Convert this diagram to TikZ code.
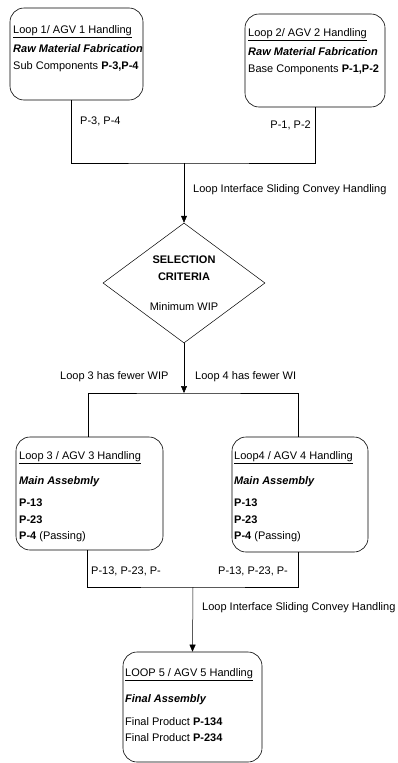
\documentclass[tikz,border=0pt]{standalone}
\usepackage{fontspec}
\setmainfont{Liberation Sans}
\usetikzlibrary{shapes.geometric,arrows.meta}
\begin{document}
\begin{tikzpicture}[x=1pt,y=-1pt,
  font=\fontsize{11}{13}\selectfont,
  box/.style={draw, rounded corners=14pt, inner sep=0pt, line width=0.6pt},
  txt/.style={anchor=west, inner sep=0pt},
  conn/.style={draw, line width=0.5pt},
  arr/.style={conn, -{Triangle[length=7pt,width=6pt]}}]
\useasboundingbox (0,0) rectangle (397,763);
\fill[white] (0,0) rectangle (397,763);

% boxes
\node[box, minimum width=133pt, minimum height=92pt] (b1) at (76.5,54) {};
\node[box, minimum width=140pt, minimum height=93pt] (b2) at (315,60.5) {};
\node[draw, shape=diamond, line width=0.5pt, inner sep=0pt, minimum width=162pt, minimum height=120pt] (dia) at (184,283) {};
\node[box, minimum width=147pt, minimum height=113pt] (b3) at (89.5,493.5) {};
\node[box, minimum width=136pt, minimum height=115pt] (b4) at (300,494.5) {};
\node[box, minimum width=139pt, minimum height=110pt] (b5) at (192.5,707) {};

% box texts
\node[txt] (t1a) at (13,32) {\underline{Loop 1/ AGV 1 Handling}};
\node[txt] (t1b) at (13,49) {\textbf{\textit{Raw Material Fabrication}}};
\node[txt] (t1c) at (13,67) {Sub Components \textbf{P-3,P-4}};

\node[txt] (t2a) at (248,35) {\underline{Loop 2/ AGV 2 Handling}};
\node[txt] (t2b) at (248,52) {\textbf{\textit{Raw Material Fabrication}}};
\node[txt] (t2c) at (248,70) {Base Components \textbf{P-1,P-2}};

\node[font=\fontsize{11}{13}\selectfont\bfseries, inner sep=0pt] (d1) at (184,260) {SELECTION};
\node[font=\fontsize{11}{13}\selectfont\bfseries, inner sep=0pt] (d2) at (184,277) {CRITERIA};
\node[inner sep=0pt] (d3) at (184,307) {Minimum WIP};

\node[txt] (t3a) at (19,458) {\underline{Loop 3 / AGV 3 Handling}};
\node[txt] (t3b) at (19,482) {\textbf{\textit{Main Assebmly}}};
\node[txt] (t3c) at (19,503) {\textbf{P-13}};
\node[txt] (t3d) at (19,520) {\textbf{P-23}};
\node[txt] (t3e) at (19,537) {\textbf{P-4} (Passing)};

\node[txt] (t4a) at (234,458) {\underline{Loop4 / AGV 4 Handling}};
\node[txt] (t4b) at (234,482) {\textbf{\textit{Main Assembly}}};
\node[txt] (t4c) at (234,503) {\textbf{P-13}};
\node[txt] (t4d) at (234,520) {\textbf{P-23}};
\node[txt] (t4e) at (234,537) {\textbf{P-4} (Passing)};

\node[txt] (t5a) at (125,675) {\underline{LOOP 5 / AGV 5 Handling}};
\node[txt] (t5b) at (125,700) {\textbf{\textit{Final Assembly}}};
\node[txt] (t5c) at (125,722) {Final Product \textbf{P-134}};
\node[txt] (t5d) at (125,738) {Final Product \textbf{P-234}};

% junctions
\coordinate (j1) at (184,163);
\coordinate (j2) at (184,393);
\coordinate (j3) at (193,587);

% connectors
\draw[conn] ([xshift=-5pt]b1.south) |- (j1) -| (b2.south);
\draw[arr] (j1) -- (dia.north);
\draw[arr] (dia.south) -- (j2);
\draw[conn] ([xshift=-1.5pt]b3.north) |- (j2) -| ([xshift=-2pt]b4.north);
\draw[conn] ([xshift=-2pt]b3.south) |- (j3) -| ([xshift=-2pt]b4.south);
\draw[arr] (j3) -- (b5.north);

% connector labels
\node[txt] (l1) at (80,121) {P-3, P-4};
\node[anchor=east, inner sep=0pt] (l2) at (311,125) {P-1, P-2};
\node[txt] (l3) at (193,190) {Loop Interface Sliding Convey Handling};
\node[txt] (l4) at (60,377) {Loop 3 has fewer WIP};
\node[txt] (l5) at (195,377) {Loop 4 has fewer WI};
\node[txt] (l6) at (91,571) {P-13, P-23, P-};
\node[txt] (l7) at (218,571) {P-13, P-23, P-};
\node[txt] (l8) at (202,608) {Loop Interface Sliding Convey Handling};
\end{tikzpicture}
\end{document}
